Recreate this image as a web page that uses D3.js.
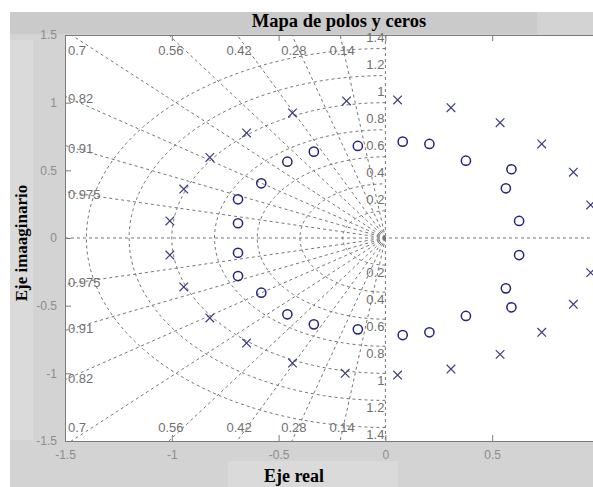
<!DOCTYPE html>
<html>
<head>
<meta charset="utf-8">
<script src="https://cdn.jsdelivr.net/npm/d3@7"></script>
<style>
  body { margin: 0; background: #fff; }
  svg { display: block; }
</style>
</head>
<body>
<div id="chart"></div>
<script>
// poles (x) and zeros (o), real and imaginary parts
const poleRe = [-0.182, -0.435, -0.650, -0.822, -0.944, -1.009, -1.009, -0.944, -0.822, -0.650, -0.435, -0.188,
  0.057, 0.307, 0.537, 0.732, 0.880, 0.961, 0.961, 0.880, 0.732, 0.537, 0.307, 0.057];
const poleIm = [1.013, 0.924, 0.776, 0.595, 0.362, 0.126, -0.126, -0.362, -0.591, -0.776, -0.924, -1.000,
  1.020, 0.963, 0.852, 0.695, 0.486, 0.244, -0.256, -0.490, -0.697, -0.860, -0.968, -1.013];
const zeroRe = [-0.129, -0.335, -0.459, -0.581, -0.690, -0.690, -0.690, -0.690, -0.581, -0.459, -0.335, -0.129,
  0.081, 0.206, 0.377, 0.590, 0.564, 0.626, 0.626, 0.564, 0.590, 0.377, 0.206, 0.081];
const zeroIm = [0.680, 0.638, 0.564, 0.404, 0.286, 0.109, -0.109, -0.281, -0.404, -0.564, -0.638, -0.675,
  0.712, 0.695, 0.571, 0.508, 0.367, 0.126, -0.126, -0.372, -0.512, -0.576, -0.697, -0.717];

// sgrid values
const dampingRatios = [0.14, 0.28, 0.42, 0.56, 0.7, 0.82, 0.91, 0.975];
const naturalFreqs = [0.2, 0.4, 0.6, 0.8, 1, 1.2, 1.4];

const xTicks = [-1.5, -1, -0.5, 0, 0.5];
const yTicks = [-1.5, -1, -0.5, 0, 0.5, 1, 1.5];

const titleText = 'Mapa de polos y ceros';
const xLabelText = 'Eje real';
const yLabelText = 'Eje imaaginario';

const width = 593, height = 487;
const margin = { top: 35, left: 65 };
const plotW = 534, plotH = 406;

const gridColor = '#767676';
const axisColor = '#7a7a7a';
const markColor = '#24247e';

const svg = d3.select('#chart').append('svg')
  .attr('width', width)
  .attr('height', height);

// figure background
svg.append('rect').attr('width', width).attr('height', height).attr('fill', '#fff');
svg.append('rect').attr('x', 10).attr('y', 12).attr('width', width - 10).attr('height', height - 12).attr('fill', '#d3d3d3');
svg.append('rect').attr('x', 10).attr('y', 12).attr('width', 527).attr('height', 22).attr('fill', '#cacaca');
svg.append('rect').attr('x', 10).attr('y', 40).attr('width', 23).attr('height', 400).attr('fill', '#dadada');
svg.append('rect').attr('x', 228).attr('y', 461).attr('width', 170).attr('height', 26).attr('fill', '#dadada');

const x = d3.scaleLinear().domain([-1.5, 1]).range([margin.left, margin.left + plotW]);
const y = d3.scaleLinear().domain([-1.5, 1.5]).range([margin.top + plotH, margin.top]);

svg.append('defs').append('clipPath').attr('id', 'plot-clip')
  .append('rect')
  .attr('x', margin.left).attr('y', margin.top)
  .attr('width', plotW).attr('height', plotH);

svg.append('rect')
  .attr('x', margin.left).attr('y', margin.top)
  .attr('width', plotW).attr('height', plotH)
  .attr('fill', '#fff');

const grid = svg.append('g')
  .attr('clip-path', 'url(#plot-clip)')
  .attr('fill', 'none')
  .attr('stroke', gridColor)
  .attr('stroke-width', 1)
  .attr('stroke-dasharray', '3,3');

// damping lines (from the origin outwards)
dampingRatios.forEach(function (z) {
  const th = Math.acos(z);
  [1, -1].forEach(function (s) {
    grid.append('line')
      .attr('x1', x(0)).attr('y1', y(0))
      .attr('x2', x(-3 * Math.cos(th))).attr('y2', y(s * 3 * Math.sin(th)));
  });
});

// natural frequency semicircles
const arc = d3.line()
  .x(function (a) { return x(a[0]); })
  .y(function (a) { return y(a[1]); });
naturalFreqs.forEach(function (r) {
  const pts = d3.range(-90, 91, 2).map(function (deg) {
    const p = deg * Math.PI / 180;
    return [-r * Math.cos(p), r * Math.sin(p)];
  });
  grid.append('path').attr('d', arc(pts));
});

// axis lines through origin
grid.append('line').attr('x1', x(-1.5)).attr('x2', x(1)).attr('y1', y(0)).attr('y2', y(0));
grid.append('line').attr('x1', x(0)).attr('x2', x(0)).attr('y1', y(1.5)).attr('y2', y(-1.5));

// grid labels
const labels = svg.append('g')
  .attr('font-family', 'Arial, "Liberation Sans", sans-serif')
  .attr('font-size', 13)
  .attr('fill', '#707070');

dampingRatios.forEach(function (z) {
  const th = Math.acos(z);
  const xAtTop = -1.5 * Math.cos(th) / Math.sin(th);
  [1, -1].forEach(function (s) {
    const t = labels.append('text');
    if (xAtTop > -1.45) {
      t.attr('x', x(xAtTop) + 2)
        .attr('y', s > 0 ? y(1.5) + 20 : y(-1.5) - 9)
        .attr('text-anchor', 'middle');
    } else if (xAtTop > -1.5) {
      t.attr('x', margin.left + 3)
        .attr('y', s > 0 ? y(1.5) + 20 : y(-1.5) - 9);
    } else {
      const yAtLeft = 1.5 * Math.sin(th) / Math.cos(th);
      t.attr('x', margin.left + 3)
        .attr('y', y(s * yAtLeft) + (s > 0 ? 7 : 3));
    }
    t.text(z);
  });
});

naturalFreqs.forEach(function (r) {
  [1, -1].forEach(function (s) {
    labels.append('text')
      .attr('x', x(0) - 1)
      .attr('y', s > 0 ? y(r) - 7 : y(-r) + 12)
      .attr('text-anchor', 'end')
      .text(r);
  });
});

// axes
const fmt = function (d) { return String(d); };
const xAxis = d3.axisBottom(x).tickValues(xTicks).tickSizeInner(-6).tickSizeOuter(0).tickPadding(9).tickFormat(fmt);
const xAxisTop = d3.axisTop(x).tickValues(xTicks).tickSizeInner(-6).tickSizeOuter(0).tickFormat('');
const yAxis = d3.axisLeft(y).tickValues(yTicks).tickSizeInner(-6).tickSizeOuter(0).tickPadding(8).tickFormat(fmt);

const axes = svg.append('g');
axes.append('g').attr('class', 'x axis').attr('transform', `translate(0, ${margin.top + plotH})`).call(xAxis);
axes.append('g').attr('class', 'x axis top').attr('transform', `translate(0, ${margin.top})`).call(xAxisTop);
axes.append('g').attr('class', 'y axis').attr('transform', `translate(${margin.left}, 0)`).call(yAxis);

axes.selectAll('.domain').attr('stroke', axisColor);
axes.selectAll('.tick line').attr('stroke', axisColor);
axes.selectAll('.tick text')
  .attr('fill', '#8c8c8c')
  .attr('font-family', 'Arial, "Liberation Sans", sans-serif')
  .attr('font-size', 12);

// marks
const marks = svg.append('g').attr('clip-path', 'url(#plot-clip)');

marks.selectAll('circle.zero')
  .data(zeroRe.map(function (re, i) { return [re, zeroIm[i]]; }))
  .enter().append('circle')
  .attr('class', 'zero')
  .attr('cx', function (d) { return x(d[0]); })
  .attr('cy', function (d) { return y(d[1]); })
  .attr('r', 4.6)
  .attr('fill', 'none')
  .attr('stroke', markColor)
  .attr('stroke-width', 1.5);

const k = 4.3;
marks.selectAll('path.pole')
  .data(poleRe.map(function (re, i) { return [re, poleIm[i]]; }))
  .enter().append('path')
  .attr('class', 'pole')
  .attr('d', function (d) {
    const cx = x(d[0]), cy = y(d[1]);
    return `M${cx - k},${cy - k}L${cx + k},${cy + k}M${cx - k},${cy + k}L${cx + k},${cy - k}`;
  })
  .attr('fill', 'none')
  .attr('stroke', '#3c3c86')
  .attr('stroke-width', 1.2);

// titles
svg.append('text')
  .attr('x', 339).attr('y', 27)
  .attr('text-anchor', 'middle')
  .attr('font-family', '"Liberation Serif", "Times New Roman", serif')
  .attr('font-weight', 'bold')
  .attr('font-size', 18.5)
  .attr('fill', '#000')
  .text(titleText);

svg.append('text')
  .attr('x', 294).attr('y', 482)
  .attr('text-anchor', 'middle')
  .attr('font-family', '"Liberation Serif", "Times New Roman", serif')
  .attr('font-weight', 'bold')
  .attr('font-size', 18)
  .attr('fill', '#000')
  .text(xLabelText);

svg.append('text')
  .attr('transform', 'translate(27, 243) rotate(-90)')
  .attr('text-anchor', 'middle')
  .attr('font-family', '"Liberation Serif", "Times New Roman", serif')
  .attr('font-weight', 'bold')
  .attr('font-size', 17)
  .attr('fill', '#000')
  .text(yLabelText);
</script>
</body>
</html>
